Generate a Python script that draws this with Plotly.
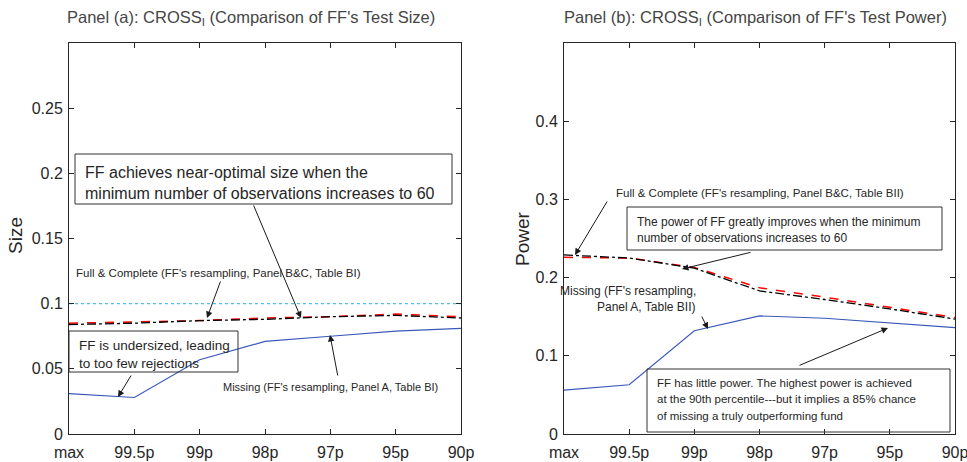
import plotly.graph_objects as go

# ---------------- data ----------------
cats = ["max", "99.5p", "99p", "98p", "97p", "95p", "90p"]
size_missing = [0.031, 0.028, 0.057, 0.071, 0.075, 0.079, 0.081]
size_full = [0.084, 0.085, 0.087, 0.088, 0.090, 0.091, 0.089]
size_complete = [0.085, 0.086, 0.087, 0.089, 0.090, 0.092, 0.090]
size_nominal = [0.1, 0.1, 0.1, 0.1, 0.1, 0.1, 0.1]
power_missing = [0.056, 0.063, 0.132, 0.151, 0.148, 0.142, 0.136]
power_full = [0.229, 0.225, 0.212, 0.183, 0.172, 0.160, 0.147]
power_complete = [0.226, 0.225, 0.213, 0.187, 0.175, 0.162, 0.149]
size_ticks = [0, 0.05, 0.1, 0.15, 0.2, 0.25]
size_ticktext = ["0", "0.05", "0.1", "0.15", "0.2", "0.25"]
power_ticks = [0, 0.1, 0.2, 0.3, 0.4]
power_ticktext = ["0", "0.1", "0.2", "0.3", "0.4"]

W, H = 967, 462
FONT = "Liberation Sans, Arial, sans-serif"
TXT = "#262626"


def px(x):
    return x / W


def py(y):
    return 1 - y / H


fig = go.Figure()

# Panel (a)
fig.add_trace(go.Scatter(x=cats, y=size_nominal, mode="lines", xaxis="x", yaxis="y",
                         line=dict(color="#4DBEEE", dash="dot", width=1.2)))
fig.add_trace(go.Scatter(x=cats, y=size_missing, mode="lines", xaxis="x", yaxis="y",
                         line=dict(color="#3A58B8", width=1.2)))
fig.add_trace(go.Scatter(x=cats, y=size_complete, mode="lines", xaxis="x", yaxis="y",
                         line=dict(color="#FF0000", dash="dash", width=1.5)))
fig.add_trace(go.Scatter(x=cats, y=size_full, mode="lines", xaxis="x", yaxis="y",
                         line=dict(color="#000000", dash="dashdot", width=1.3)))

# Panel (b)
fig.add_trace(go.Scatter(x=cats, y=power_missing, mode="lines", xaxis="x2", yaxis="y2",
                         line=dict(color="#3A58B8", width=1.2)))
fig.add_trace(go.Scatter(x=cats, y=power_complete, mode="lines", xaxis="x2", yaxis="y2",
                         line=dict(color="#FF0000", dash="dash", width=1.5)))
fig.add_trace(go.Scatter(x=cats, y=power_full, mode="lines", xaxis="x2", yaxis="y2",
                         line=dict(color="#000000", dash="dashdot", width=1.3)))

axis_common = dict(showline=True, linecolor=TXT, linewidth=1, mirror="ticks",
                   ticks="inside", ticklen=5, tickcolor=TXT, showgrid=False,
                   zeroline=False, automargin=False,
                   tickfont=dict(family=FONT, size=16, color=TXT))

ydom = [py(434), py(43)]
fig.update_layout(
    width=W, height=H, margin=dict(l=0, r=0, t=0, b=0),
    paper_bgcolor="white", plot_bgcolor="white", showlegend=False,
    xaxis=dict(domain=[px(69), px(461)], range=[0, 6], anchor="y",
               ticklabelstandoff=4, **axis_common),
    yaxis=dict(domain=ydom, range=[0, 0.3], anchor="x", tickvals=size_ticks,
               ticktext=size_ticktext, ticklabelstandoff=2, **axis_common),
    xaxis2=dict(domain=[px(564), px(955)], range=[0, 6], anchor="y2",
                ticklabelstandoff=4, **axis_common),
    yaxis2=dict(domain=ydom, range=[0, 0.5], anchor="x2", tickvals=power_ticks,
                ticktext=power_ticktext, ticklabelstandoff=2, **axis_common),
)

annotations = []
shapes = []


def label(x, y, text, size, xanchor="left", color=TXT, angle=0):
    annotations.append(dict(x=px(x), y=py(y), xref="paper", yref="paper", text=text,
                            showarrow=False, xanchor=xanchor, yanchor="middle",
                            textangle=angle, borderpad=0,
                            font=dict(family=FONT, size=size, color=color)))


def arrow(x0, y0, x1, y1):
    annotations.append(dict(x=px(x1), y=py(y1), xref="paper", yref="paper", text="",
                            showarrow=True, axref="pixel", ayref="pixel",
                            ax=x0 - x1, ay=y0 - y1, arrowhead=2, arrowsize=1.3,
                            arrowwidth=1, arrowcolor="#1a1a1a", standoff=0,
                            startstandoff=0))


def box(x0, y0, x1, y1):
    shapes.append(dict(type="rect", xref="paper", yref="paper", x0=px(x0), x1=px(x1),
                       y0=py(y1), y1=py(y0), line=dict(color="#333333", width=1),
                       fillcolor="rgba(0,0,0,0)", layer="above"))


# titles
label(251, 18, "Panel (a): CROSS<sub>I</sub> (Comparison of FF's Test Size)", 16.5,
      xanchor="center", color="#454545")
label(755, 18, "Panel (b): CROSS<sub>I</sub> (Comparison of FF's Test Power)", 16.5,
      xanchor="center", color="#454545")
label(15, 236, "Size", 19, xanchor="center", angle=-90)
label(523, 239, "Power", 19, xanchor="center", angle=-90)

# Panel (a) annotations
box(75, 154, 452, 204)
label(84, 172, "FF achieves near-optimal size when the", 16)
label(84, 193, "minimum number of observations increases to 60", 16)
arrow(253, 204, 301, 318)
label(75, 273, "Full &amp; Complete (FF's resampling, Panel B&amp;C, Table BI)", 11.5)
arrow(221, 280, 207, 318)
box(69, 331, 238, 372)
label(78, 345, "FF is undersized, leading", 13.5)
label(78, 363, "to too few rejections", 13.5)
arrow(132, 374, 118, 397)
label(222, 387, "Missing (FF's resampling, Panel A, Table BI)", 11)
arrow(338, 377, 330, 335)

# Panel (b) annotations
label(615, 193, "Full &amp; Complete (FF's resampling, Panel B&amp;C, Table BII)", 11.5)
arrow(608, 200, 575, 255)
box(627, 207, 942, 250)
label(636, 222, "The power of FF greatly improves when the minimum", 12)
label(636, 238, "number of observations increases to 60", 12)
arrow(752, 252, 682, 269)
label(697, 291, "Missing (FF's resampling,", 12, xanchor="right")
label(697, 307, "Panel A, Table BII)", 12, xanchor="right")
arrow(701, 315, 708, 329)
box(647, 369, 950, 432)
label(656, 383, "FF has little power. The highest power is achieved", 11.5)
label(656, 399, "at the 90th percentile---but it implies a 85% chance", 11.5)
label(656, 416, "of missing a truly outperforming fund", 11.5)
arrow(798, 366, 888, 328)

fig.update_layout(annotations=annotations, shapes=shapes)
fig.write_html("out.html")
